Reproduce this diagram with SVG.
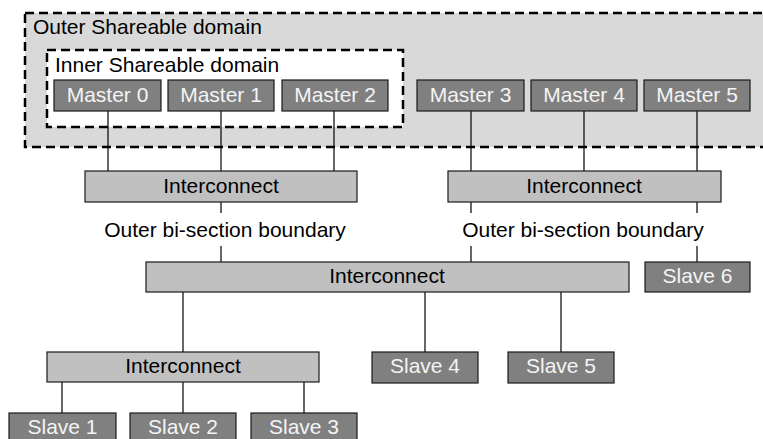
<svg xmlns="http://www.w3.org/2000/svg" width="763" height="439" viewBox="0 0 763 439">
<style>
text{font-family:"Liberation Sans",Arial,sans-serif;font-size:21px}
.dom{stroke:#000;stroke-width:2.5;stroke-dasharray:9 5}
.m{fill:#808080;stroke:#1a1a1a;stroke-width:1.2}
.mt{fill:#f4f4f4;text-anchor:middle}
.ic{fill:#c0c0c0;stroke:#1a1a1a;stroke-width:1.2}
.it{fill:#000;text-anchor:middle}
.c line{stroke:#000;stroke-width:1.2}
</style>
<rect width="763" height="439" fill="#fff"/>
<g id="outer-domain">
<rect class="dom" x="25" y="13" width="760" height="134" fill="#d9d9d9"/>
<text x="33" y="34">Outer Shareable domain</text>
</g>
<g id="inner-domain">
<rect class="dom" x="47" y="50" width="356" height="77" fill="#fff"/>
<text x="55" y="72">Inner Shareable domain</text>
</g>
<g class="c" id="connectors">
<line x1="108" y1="111" x2="108" y2="171"/>
<line x1="221" y1="111" x2="221" y2="171"/>
<line x1="334" y1="111" x2="334" y2="171"/>
<line x1="471" y1="111" x2="471" y2="171"/>
<line x1="584" y1="111" x2="584" y2="171"/>
<line x1="697" y1="111" x2="697" y2="171"/>
<line x1="221" y1="202" x2="221" y2="213"/>
<line x1="221" y1="246" x2="221" y2="262"/>
<line x1="471" y1="202" x2="471" y2="213"/>
<line x1="471" y1="246" x2="471" y2="262"/>
<line x1="697" y1="202" x2="697" y2="213"/>
<line x1="697" y1="246" x2="697" y2="262"/>
<line x1="183" y1="292" x2="183" y2="352"/>
<line x1="425" y1="292" x2="425" y2="352"/>
<line x1="561" y1="292" x2="561" y2="352"/>
<line x1="62" y1="382" x2="62" y2="413"/>
<line x1="183" y1="382" x2="183" y2="413"/>
<line x1="304" y1="382" x2="304" y2="413"/>
</g>
<g id="master0"><rect class="m" x="54" y="80" width="107" height="31"/><text class="mt" x="107.5" y="102">Master 0</text></g>
<g id="master1"><rect class="m" x="168" y="80" width="106" height="31"/><text class="mt" x="221" y="102">Master 1</text></g>
<g id="master2"><rect class="m" x="282" y="80" width="106" height="31"/><text class="mt" x="335" y="102">Master 2</text></g>
<g id="master3"><rect class="m" x="417" y="80" width="107" height="31"/><text class="mt" x="470.5" y="102">Master 3</text></g>
<g id="master4"><rect class="m" x="531" y="80" width="106" height="31"/><text class="mt" x="584" y="102">Master 4</text></g>
<g id="master5"><rect class="m" x="644" y="80" width="106" height="31"/><text class="mt" x="697" y="102">Master 5</text></g>
<g id="interconnect-left"><rect class="ic" x="85" y="171" width="272" height="31"/><text class="it" x="221" y="193">Interconnect</text></g>
<g id="interconnect-right"><rect class="ic" x="448" y="171" width="273" height="31"/><text class="it" x="584" y="193">Interconnect</text></g>
<g id="boundary-left"><text class="it" x="225" y="237">Outer bi-section boundary</text></g>
<g id="boundary-right"><text class="it" x="583" y="237">Outer bi-section boundary</text></g>
<g id="interconnect-main"><rect class="ic" x="146" y="262" width="483" height="30"/><text class="it" x="387" y="283">Interconnect</text></g>
<g id="slave6"><rect class="m" x="645" y="262" width="105" height="30"/><text class="mt" x="697.5" y="283">Slave 6</text></g>
<g id="interconnect-low"><rect class="ic" x="47" y="352" width="272" height="30"/><text class="it" x="183" y="373">Interconnect</text></g>
<g id="slave4"><rect class="m" x="372" y="352" width="106" height="31"/><text class="mt" x="425" y="373">Slave 4</text></g>
<g id="slave5"><rect class="m" x="508" y="352" width="106" height="31"/><text class="mt" x="561" y="373">Slave 5</text></g>
<g id="slave1"><rect class="m" x="9" y="413" width="107" height="31"/><text class="mt" x="62.5" y="434">Slave 1</text></g>
<g id="slave2"><rect class="m" x="130" y="413" width="106" height="31"/><text class="mt" x="183" y="434">Slave 2</text></g>
<g id="slave3"><rect class="m" x="251" y="413" width="106" height="31"/><text class="mt" x="304" y="434">Slave 3</text></g>
</svg>
